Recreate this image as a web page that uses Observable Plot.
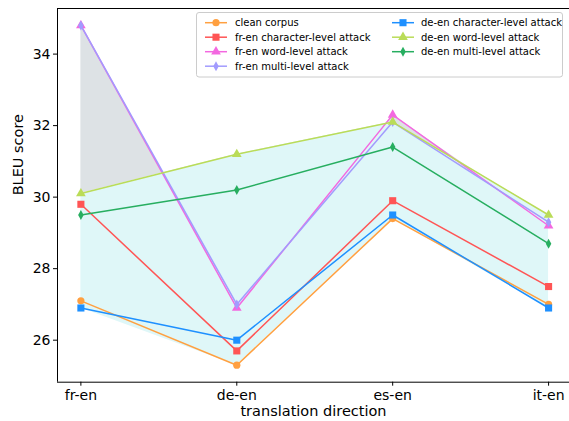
<!DOCTYPE html>
<html><head><meta charset="utf-8">
<script src="https://cdn.jsdelivr.net/npm/d3@7"></script>
<script src="https://cdn.jsdelivr.net/npm/@observablehq/plot@0.6"></script>
<style>
body{margin:0;background:#fff}
svg{font-family:"DejaVu Sans",sans-serif}
</style>
</head><body><div id="chart"></div>
<script>
// ---- data ----
const directions = ["fr-en", "de-en", "es-en", "it-en"];
const cleanCorpus = [27.1, 25.3, 29.4, 27.0];
const frChar = [29.8, 25.7, 29.9, 27.5];
const frWord = [34.8, 26.9, 32.3, 29.2];
const frMulti = [34.8, 27.0, 32.1, 29.3];
const deChar = [26.9, 26.0, 29.5, 26.9];
const deWord = [30.1, 31.2, 32.1, 29.5];
const deMulti = [29.5, 30.2, 31.4, 28.7];
const yTicks = [26, 28, 30, 32, 34];

const seriesNames = ["clean corpus", "fr-en character-level attack", "fr-en word-level attack", "fr-en multi-level attack",
  "de-en character-level attack", "de-en word-level attack", "de-en multi-level attack"];
const seriesValues = [cleanCorpus, frChar, frWord, frMulti, deChar, deWord, deMulti];
const seriesColors = ["#ffa040", "#ff5555", "#f368e0", "#a29bfe", "#1e90ff", "#badc58", "#27ae60"];

const thinDiamond = {
  draw(ctx, size) {
    const h = Math.sqrt(size / Math.PI) * 1.25, w = h * 0.55;
    ctx.moveTo(0, -h); ctx.lineTo(w, 0); ctx.lineTo(0, h); ctx.lineTo(-w, 0); ctx.closePath();
  }
};
const seriesSymbols = ["circle", "square", "triangle", thinDiamond, "square", "triangle", thinDiamond];
const d3Symbols = {circle: d3.symbolCircle, square: d3.symbolSquare, triangle: d3.symbolTriangle};

// ---- derived ----
const idx = directions.map((d, i) => i);
const frMax = idx.map(i => Math.max(frWord[i], frMulti[i], frChar[i]));
const deMax = idx.map(i => Math.max(deWord[i], deMulti[i], deChar[i]));
const allMin = idx.map(i => d3.min(seriesValues, s => s[i]));

const W = 569, H = 421;
const mL = 57, mT = 8, mB = 39.3;
const step = 155.9;
const xMin = -0.15, xMax = 3 + (W - (mL + 0.15 * step + 3 * step)) / step;
const yDom = [24.825, 35.275];
const R = 4;
const sizeOf = k => (k === 0 || seriesSymbols[k] === "triangle") ? 3.6 : R;

const marks = [
  Plot.areaY(idx, {x: i => i, y1: i => deMax[i], y2: i => frMax[i], fill: "#dde2e5", curve: "linear"}),
  Plot.areaY(idx, {x: i => i, y1: i => allMin[i], y2: i => deMax[i], fill: "#dff7f8", curve: "linear"}),
];
seriesValues.forEach((vals, k) => {
  marks.push(Plot.line(idx, {x: i => i, y: i => vals[i], stroke: seriesColors[k], strokeWidth: 1.5}));
  marks.push(Plot.dot(idx, {x: i => i, y: i => vals[i], fill: seriesColors[k], stroke: "none", r: sizeOf(k), symbol: seriesSymbols[k]}));
});
marks.push(
  Plot.ruleX([xMin], {stroke: "black", strokeWidth: 1}),
  Plot.ruleY(yDom, {stroke: "black", strokeWidth: 1}),
  Plot.axisY({ticks: yTicks, tickSize: 4, tickPadding: 3, fontSize: 14, label: null}),
  Plot.axisX({ticks: idx, tickFormat: i => directions[i], tickSize: 4, tickPadding: 4, fontSize: 14, label: null}),
  Plot.text(["BLEU score"], {frameAnchor: "left", rotate: -90, dx: -39, fontSize: 14.5, fill: "black"}),
  Plot.text(["translation direction"], {frameAnchor: "bottom", dy: 34, fontSize: 14.5, fill: "black"})
);

const svg = Plot.plot({
  width: W, height: H,
  marginLeft: mL, marginRight: 0, marginTop: mT, marginBottom: mB,
  style: {color: "black", background: "white", fontFamily: "DejaVu Sans"},
  x: {type: "linear", domain: [xMin, xMax]},
  y: {domain: yDom},
  marks
});
document.getElementById("chart").appendChild(svg);

// ---- legend inside the axes ----
const sel = d3.select(svg);
const lg = sel.append("g").attr("font-family", "DejaVu Sans").attr("font-size", 10).attr("text-anchor", "start");
lg.append("rect").attr("x", 196.5).attr("y", 12.5).attr("width", 366).attr("height", 64.5)
  .attr("rx", 2.5).attr("fill", "white").attr("fill-opacity", 0.85).attr("stroke", "#cccccc").attr("stroke-width", 1);
const rowY = [22.7, 37.2, 51.7, 66.2];
const colX = [[205, 235], [392, 421]];
seriesNames.forEach((name, k) => {
  const col = k < 4 ? 0 : 1, row = k < 4 ? k : k - 4;
  const [x0, tx] = colX[col], y = rowY[row];
  lg.append("line").attr("x1", x0).attr("x2", x0 + 22).attr("y1", y).attr("y2", y)
    .attr("stroke", seriesColors[k]).attr("stroke-width", 1.5);
  const s = seriesSymbols[k];
  const r = sizeOf(k);
  const type = typeof s === "string" ? d3Symbols[s] : s;
  lg.append("path").attr("d", d3.symbol().type(type).size(r * r * Math.PI)())
    .attr("transform", `translate(${x0 + 11},${y})`).attr("fill", seriesColors[k]);
  lg.append("text").attr("x", tx).attr("y", y).attr("dy", "0.35em").attr("text-anchor", "start").attr("fill", "black").text(name);
});
</script>
</body></html>
